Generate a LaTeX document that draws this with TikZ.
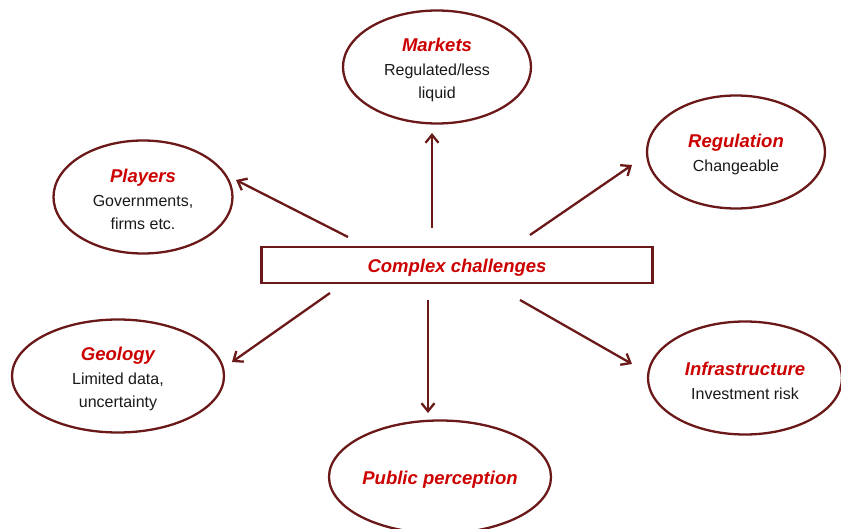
\documentclass[tikz,border=0pt]{standalone}
\usepackage{fontspec}
\setmainfont{Liberation Sans}
\usetikzlibrary{shapes.geometric,arrows.meta}
\definecolor{maroon}{HTML}{6A1818}
\definecolor{titlered}{HTML}{CC0000}
\tikzset{
  bubble/.style={ellipse,draw=maroon,line width=2.3pt,inner sep=0pt,align=center,font=\fontsize{16}{23}\selectfont,text=black!90},
  hubbox/.style={rectangle,draw=maroon,line width=2.3pt,inner sep=0pt,minimum width=391pt,minimum height=36pt},
  link/.style={draw=maroon,line width=2.3pt,-{Straight Barb[length=8pt,width=13pt,line width=2.3pt]}},
}
\newcommand{\ttl}[1]{{\fontsize{18.5}{22}\selectfont\bfseries\itshape\color{titlered}\rule{0pt}{19pt}#1}}
\begin{document}
\begin{tikzpicture}[x=1pt,y=-1pt]
\useasboundingbox (0,0) rectangle (841,529);
\clip (0,0) rectangle (841,529);
\node[hubbox] (hub) at (457,265) {\ttl{Complex challenges}};
\node[bubble,minimum width=188pt,minimum height=113pt] (markets) at (437,67) {\ttl{Markets}\\[1pt]Regulated/less\\liquid};
\node[bubble,minimum width=178pt,minimum height=113pt] (regulation) at (736,152) {\ttl{Regulation}\\[1pt]Changeable};
\node[bubble,minimum width=179pt,minimum height=113pt] (players) at (143,197) {\ttl{Players}\\[1pt]Governments,\\firms etc.};
\node[bubble,minimum width=212pt,minimum height=113pt] (geology) at (118,376) {\ttl{Geology}\\[1pt]Limited data,\\uncertainty};
\node[bubble,minimum width=194pt,minimum height=113pt] (infra) at (745,378) {\ttl{Infrastructure}\\[1pt]Investment risk};
\node[bubble,minimum width=222pt,minimum height=113pt] (public) at (440,477) {\ttl{Public perception}};
\coordinate (s1) at (348,237); \coordinate (e1) at (236,180);
\coordinate (s2) at (432,228); \coordinate (e2) at (432,133);
\coordinate (s3) at (530,235); \coordinate (e3) at (632,165);
\coordinate (s4) at (330,293); \coordinate (e4) at (232,362);
\coordinate (s5) at (428,300); \coordinate (e5) at (428,413);
\coordinate (s6) at (520,300); \coordinate (e6) at (632,364);
\draw[link] (s1) -- (e1);
\draw[link] (s2) -- (e2);
\draw[link] (s3) -- (e3);
\draw[link] (s4) -- (e4);
\draw[link] (s5) -- (e5);
\draw[link] (s6) -- (e6);
\end{tikzpicture}
\end{document}
